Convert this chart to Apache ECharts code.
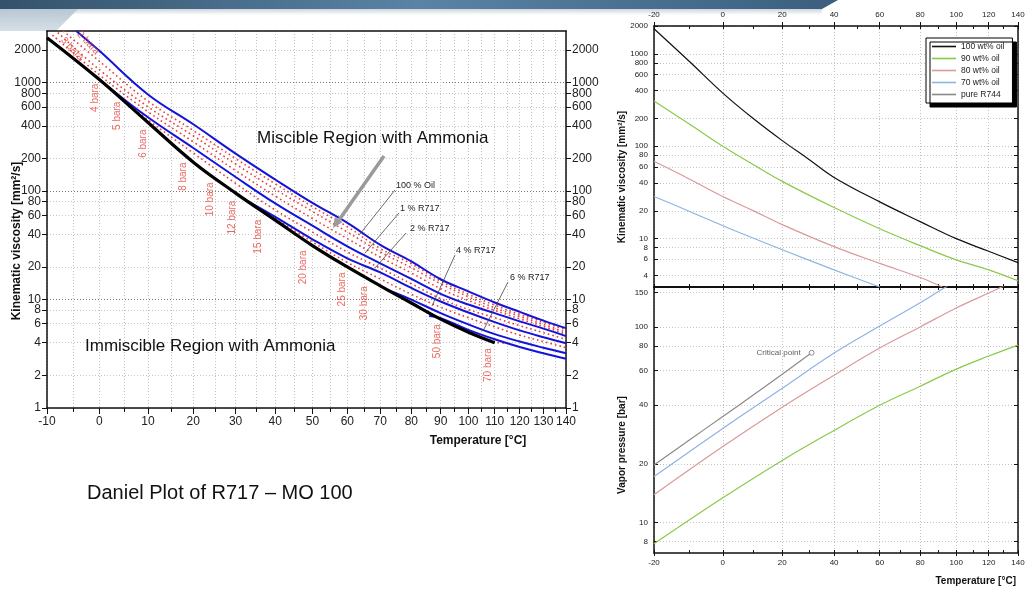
<!DOCTYPE html>
<html>
<head>
<meta charset="utf-8">
<title>Daniel Plot of R717 – MO 100</title>
<script src="https://cdn.jsdelivr.net/npm/echarts@6/dist/echarts.min.js"></script>
<style>
  html, body { margin: 0; padding: 0; background: #fff; }
  #chart { width: 1029px; height: 589px; }
</style>
</head>
<body>
<div id="chart"></div>
<script>
// ---------- left: Daniel plot, kinematic viscosity [mm²/s] over temperature [°C]
// pairs are [temperature °C, viscosity mm²/s]
const immiscibleBorder = [[-10, 2600], [0, 1070], [10, 430], [20, 185], [30, 96], [40, 54], [50, 31.5], [60, 20], [70, 13.4], [80, 9.3], [90, 6.6], [100, 5.0], [110, 4.0]];
const oil100 = [[-4.5, 3000], [0, 1970], [10, 780], [20, 414], [30, 222], [40, 128], [50, 78], [60, 51], [70, 32], [80, 22.5], [90, 15.4], [100, 11.9], [110, 9.4], [120, 7.7], [130, 6.4], [140, 5.45]];
const r717p1 = [[2, 900], [10, 480], [20, 250], [30, 135], [40, 77], [50, 48], [60, 31], [70, 21.6], [80, 15.5], [90, 11.3], [100, 9.0], [110, 7.5], [120, 6.3], [130, 5.4], [140, 4.6]];
const r717p2 = [[32, 85], [40, 58], [50, 36], [60, 24], [70, 17.8], [80, 12.8], [90, 9.6], [100, 7.6], [110, 6.2], [120, 5.2], [130, 4.5], [140, 3.96]];
const r717p4 = [[72, 12.4], [80, 10.0], [90, 7.5], [100, 5.9], [110, 4.8], [120, 4.1], [130, 3.6], [140, 3.2]];
const r717p6 = [[86, 7.06], [90, 6.75], [100, 5.25], [110, 4.3], [120, 3.65], [130, 3.2], [140, 2.85]];
// red dotted isobars
const isoA = [[-7, 3000], [0, 1580], [10, 676], [20, 363], [30, 200], [40, 117], [50, 72], [60, 47], [70, 29.5], [80, 21.4], [90, 14.8], [100, 11.2], [110, 8.9], [120, 7.3], [130, 6.2], [140, 5.25]];
const isoB = [[-8, 2900], [0, 1320], [10, 600], [20, 324], [30, 178], [40, 104], [50, 65], [60, 42], [70, 27.5], [80, 19.7], [90, 14], [100, 10.6], [110, 8.4], [120, 7.0], [130, 5.9], [140, 5.0]];
const isoC = [[-9, 2750], [0, 1180], [10, 540], [20, 285], [30, 155], [40, 90], [50, 56], [60, 36.5], [70, 24.6], [80, 17.6], [90, 12.6], [100, 9.8], [110, 7.95], [120, 6.65], [130, 5.65], [140, 4.8]];
const isoD = [[5, 690], [10, 455], [20, 225], [30, 118], [40, 67], [50, 42], [60, 27.5], [70, 19.5], [80, 14], [90, 10.2], [100, 8.1], [110, 6.8], [120, 5.75], [130, 4.95], [140, 4.3]];
const isoE = [[40, 56], [50, 34], [60, 22], [70, 15.5], [80, 11.2], [90, 8.5], [100, 6.8], [110, 5.6], [120, 4.7], [130, 4.1], [140, 3.6]];
const isoF = [[85, 7.8], [90, 6.7], [100, 5.1], [110, 4.05], [116, 3.95]];
const baraLabels = [['2 bara', -2.2, 2330], ['3 bara', -5.3, 2050], ['4 bara', -0.85, 727], ['5 bara', 3.6, 496], ['6 bara', 9.0, 274],
  ['8 bara', 17.7, 136], ['10 bara', 23.9, 84], ['12 bara', 29.1, 57], ['15 bara', 35.6, 38], ['20 bara', 47.4, 19.8],
  ['25 bara', 58.5, 12.4], ['30 bara', 65.0, 9.25], ['50 bara', 88.8, 4.13], ['70 bara', 107.5, 2.49]];

const leftTempTicks = [-10, 0, 10, 20, 30, 40, 50, 60, 70, 80, 90, 100, 110, 120, 130, 140];
const leftTempMinor = [-10, -5, 0, 5, 10, 15, 20, 25, 30, 35, 40, 45, 50, 55, 60, 65, 70, 75, 80, 85, 90, 95, 100, 105, 110, 115, 120, 125, 130, 135, 140];
const leftViscTicks = [1, 2, 4, 6, 8, 10, 20, 40, 60, 80, 100, 200, 400, 600, 800, 1000, 2000];
const leftDecades = [10, 100, 1000];

// ---------- right: CO2 / oil mixtures
const rightTempTicks = [-20, 0, 20, 40, 60, 80, 100, 120, 140];
const rightTempMinor = [-20, -10, 0, 10, 20, 30, 40, 50, 60, 70, 80, 90, 100, 110, 120, 130, 140];
const rightViscTicks = [4, 6, 8, 10, 20, 40, 60, 80, 100, 200, 400, 600, 800, 1000, 2000];
const pressTicks = [8, 10, 20, 40, 60, 80, 100, 150];

const visc100 = [[-20, 1870], [-10, 820], [0, 376], [10, 198], [20, 115], [30, 72], [40, 46], [60, 25], [80, 15.3], [100, 10], [120, 7.3], [140, 5.5]];
const visc90 = [[-20, 308], [-10, 173], [0, 100], [10, 63], [20, 41.7], [40, 21.7], [60, 12.8], [80, 8.4], [100, 5.9], [120, 4.6], [140, 3.5]];
const visc80 = [[-20, 68.7], [-10, 44], [0, 28.6], [10, 20], [20, 14.2], [40, 8.2], [60, 5.4], [80, 3.8], [92, 3.0]];
const visc70 = [[-20, 28.6], [-10, 19.7], [0, 13.8], [10, 10.1], [20, 7.6], [40, 4.6], [60, 3.0]];

const press90 = [[-20, 7.8], [0, 13.4], [20, 20.8], [40, 29.6], [60, 39.8], [80, 49.8], [100, 60.9], [120, 71], [140, 80.8]];
const press80 = [[-20, 13.9], [0, 24.5], [20, 38.9], [40, 56.7], [60, 78], [80, 100], [100, 125], [120, 149], [130, 162]];
const press70 = [[-20, 17.2], [0, 30.3], [20, 48.6], [40, 73.6], [60, 101], [80, 133], [90, 152], [95, 162]];
const pressR744 = [[-20, 19.7], [-10, 26.5], [0, 34.9], [10, 45.0], [20, 57.3], [31, 73.8]];
const criticalPoint = [31, 73.8];

// temperature axes are 1/T (Kelvin), viscosity / pressure axes are log10
const tx = t => -1000 / (t + 273.15);
const txInv = x => String(Math.round(-1000 / x - 273.15));
const ly = v => Math.log10(v);
const lyInv = y => String(Math.round(Math.pow(10, y)));
const pts = arr => arr.map(([t, v]) => [tx(t), ly(v)]);

const FONT = "'Liberation Sans', Arial, sans-serif";
const chart = echarts.init(document.getElementById('chart'));

function tempAxis(grid, pos, range, o) {
  return {
    type: 'value', gridIndex: grid, position: pos, min: tx(range[0]), max: tx(range[1]),
    axisLine: { show: o.line !== false, onZero: false, lineStyle: { color: '#111', width: o.lineWidth || 1.5 } },
    axisTick: { show: !!o.ticks, inside: !!o.inside, length: o.tickLen || 4, customValues: (o.ticks || []).map(tx), lineStyle: { color: '#111', width: 1 } },
    axisLabel: o.labels ? { show: true, customValues: o.labels.map(tx), formatter: txInv, fontSize: o.fontSize, color: '#222', margin: o.margin, fontFamily: FONT, hideOverlap: false } : { show: false },
    splitLine: { show: !!o.split, lineStyle: { color: '#c2c2c2', width: 1, type: [1, 2] } }
  };
}

function logAxis(grid, pos, range, o) {
  return {
    type: 'value', gridIndex: grid, position: pos, min: ly(range[0]), max: ly(range[1]),
    axisLine: { show: o.line !== false, onZero: false, lineStyle: { color: '#111', width: 1.5 } },
    axisTick: { show: o.tickShow !== false, inside: !!o.inside, length: o.tickLen || 4, customValues: o.ticks.map(ly), lineStyle: { color: '#111', width: 1 } },
    axisLabel: o.labels ? { show: true, customValues: o.ticks.map(ly), formatter: lyInv, fontSize: o.fontSize, color: '#222', margin: o.margin, fontFamily: FONT, hideOverlap: false } : { show: false },
    splitLine: { show: !!o.split, lineStyle: { color: o.splitColor || '#c6c6c6', width: 1, type: [1, 2] } }
  };
}

function line(name, data, color, width, xi, yi, extra) {
  return Object.assign({
    name: name, type: 'line', xAxisIndex: xi, yAxisIndex: yi, data: pts(data),
    symbol: 'none', showSymbol: false, smooth: 0.4, clip: true,
    lineStyle: { color: color, width: width }, itemStyle: { color: color }
  }, extra || {});
}

const BLUE = '#1414d8';
const RED = '#e5413a';
const isoStyle = { z: 2, lineStyle: { color: RED, width: 1.6, type: [1.6, 3] } };

const series = [
  line('isoA', isoA, RED, 1.6, 0, 0, isoStyle),
  line('isoB', isoB, RED, 1.6, 0, 0, isoStyle),
  line('isoC', isoC, RED, 1.6, 0, 0, isoStyle),
  line('isoD', isoD, RED, 1.6, 0, 0, isoStyle),
  line('isoE', isoE, RED, 1.6, 0, 0, isoStyle),
  line('isoF', isoF, RED, 1.6, 0, 0, isoStyle),
  line('100 % Oil', oil100, BLUE, 2, 0, 0, { z: 3 }),
  line('1 % R717', r717p1, BLUE, 2, 0, 0, { z: 3 }),
  line('2 % R717', r717p2, BLUE, 2, 0, 0, { z: 3 }),
  line('4 % R717', r717p4, BLUE, 2, 0, 0, { z: 3 }),
  line('6 % R717', r717p6, BLUE, 2, 0, 0, { z: 3 }),
  line('miscibility limit', immiscibleBorder, '#000', 3.2, 0, 0, { z: 4 }),
  {
    name: 'bara', type: 'scatter', xAxisIndex: 0, yAxisIndex: 0, symbolSize: 0, z: 5, silent: true,
    data: baraLabels.map(([txt, t, v], i) => ({
      name: txt, value: [tx(t), ly(v)],
      label: { rotate: i < 2 ? -47 : 90 }
    })),
    label: { show: true, position: 'inside', formatter: p => p.name, color: RED, fontSize: 10, fontFamily: FONT }
  },

  line('100 wt% oil', visc100, '#111', 1.2, 3, 3),
  line('90 wt% oil', visc90, '#8cc84b', 1.2, 3, 3),
  line('80 wt% oil', visc80, '#d99a9a', 1.2, 3, 3),
  line('70 wt% oil', visc70, '#8fb3e3', 1.2, 3, 3),

  line('90 wt% oil', press90, '#8cc84b', 1.2, 7, 5),
  line('80 wt% oil', press80, '#d99a9a', 1.2, 7, 5),
  line('70 wt% oil', press70, '#8fb3e3', 1.2, 7, 5),
  line('pure R744', pressR744, '#8a8a8a', 1.2, 7, 5),
  {
    name: 'Critical point', type: 'scatter', xAxisIndex: 7, yAxisIndex: 5, z: 6,
    data: [[tx(criticalPoint[0]), ly(criticalPoint[1])]],
    symbol: 'circle', symbolSize: 5,
    itemStyle: { color: '#fff', borderColor: '#777', borderWidth: 1 },
    label: { show: true, position: 'left', distance: 8, formatter: 'Critical point', fontSize: 8, color: '#333', fontFamily: FONT }
  }
];

function txt(text, x, y, size, opt) {
  return Object.assign({
    type: 'text', x: x, y: y, z: 100,
    style: Object.assign({ text: text, fill: '#111', font: size + 'px ' + FONT, textVerticalAlign: 'middle' }, (opt && opt.style) || {})
  }, (opt && opt.el) || {});
}
function seg(x1, y1, x2, y2, color, w) {
  return { type: 'line', z: 100, shape: { x1: x1, y1: y1, x2: x2, y2: y2 }, style: { stroke: color, lineWidth: w } };
}

const graphic = [
  // slide banner
  { type: 'polygon', z: -10, shape: { points: [[0, 0], [838, 0], [822, 9], [0, 9]] },
    style: { fill: new echarts.graphic.LinearGradient(0, 0, 1, 0, [{ offset: 0, color: '#34526c' }, { offset: 0.5, color: '#5a83a5' }, { offset: 1, color: '#3b5e7e' }]) } },
  { type: 'rect', z: -11, shape: { x: 0, y: 9, width: 822, height: 6 },
    style: { fill: new echarts.graphic.LinearGradient(0, 0, 0, 1, [{ offset: 0, color: '#cdd5dc' }, { offset: 1, color: '#ffffff' }]) } },
  { type: 'polygon', z: -10, shape: { points: [[0, 9], [78, 9], [56, 31], [0, 31]] },
    style: { fill: new echarts.graphic.LinearGradient(0, 0, 0, 1, [{ offset: 0, color: '#b8c7d3' }, { offset: 1, color: '#d6dfe6' }]) } },

  // left chart annotations
  txt('Miscible Region with Ammonia', 257, 138, 17),
  txt('Immiscible Region with Ammonia', 85, 346, 17),
  txt('Daniel Plot of R717 \u2013 MO 100', 87, 493, 20),
  seg(384, 156, 339, 220, '#9a9a9a', 3.5),
  { type: 'polygon', z: 100, shape: { points: [[333, 228], [342.5, 222.3], [335, 217]] }, style: { fill: '#9a9a9a' } },
  txt('100 % Oil', 396, 186, 9, { style: { fill: '#222' } }),
  txt('1 % R717', 400, 209, 9, { style: { fill: '#222' } }),
  txt('2 % R717', 410, 229, 9, { style: { fill: '#222' } }),
  txt('4 % R717', 456, 251, 9, { style: { fill: '#222' } }),
  txt('6 % R717', 510, 278, 9, { style: { fill: '#222' } }),
  seg(395, 190, 360, 234, '#444', 0.8),
  seg(399, 213, 365, 253, '#444', 0.8),
  seg(406, 233, 375, 268, '#444', 0.8),
  seg(455, 255, 432, 306, '#444', 0.8),
  seg(508, 282, 483, 331, '#444', 0.8),
  txt('Kinematic viscosity [mm\u00b2/s]', 17, 241, 12, { style: { textAlign: 'center', font: 'bold 12px ' + FONT }, el: { rotation: Math.PI / 2 } }),
  txt('Temperature [\u00b0C]', 478, 441, 12, { style: { textAlign: 'center', font: 'bold 12px ' + FONT } }),

  // right chart titles
  txt('Kinematic viscosity [mm\u00b2/s]', 622, 177, 10, { style: { textAlign: 'center', font: 'bold 10px ' + FONT }, el: { rotation: Math.PI / 2 } }),
  txt('Vapor pressure [bar]', 622, 445, 10, { style: { textAlign: 'center', font: 'bold 10px ' + FONT }, el: { rotation: Math.PI / 2 } }),
  txt('Temperature [\u00b0C]', 1016, 581, 10, { style: { textAlign: 'right', font: 'bold 10px ' + FONT } })
];

const option = {
  animation: false,
  backgroundColor: '#fff',
  textStyle: { fontFamily: FONT },
  grid: [
    { left: 47, top: 31, width: 519, height: 377, outerBoundsMode: 'none' },
    { left: 654, top: 26, width: 364, height: 261, outerBoundsMode: 'none' },
    { left: 654, top: 287, width: 364, height: 266, outerBoundsMode: 'none' }
  ],
  xAxis: [
    tempAxis(0, 'bottom', [-10, 140], { ticks: leftTempTicks, labels: leftTempTicks, tickLen: 6, fontSize: 12, margin: 8 }),
    tempAxis(0, 'bottom', [-10, 140], { line: false, ticks: leftTempMinor, tickLen: 4, split: true }),
    tempAxis(0, 'top', [-10, 140], { lineWidth: 1.5 }),
    tempAxis(1, 'top', [-20, 140], { ticks: rightTempTicks, labels: rightTempTicks, tickLen: 4, fontSize: 8, margin: 7, split: true }),
    tempAxis(1, 'top', [-20, 140], { line: false, ticks: rightTempMinor, inside: true, tickLen: 3 }),
    tempAxis(1, 'bottom', [-20, 140], { ticks: rightTempMinor, tickLen: 3, lineWidth: 2 }),
    tempAxis(1, 'bottom', [-20, 140], { line: false, ticks: rightTempMinor, inside: true, tickLen: 3 }),
    tempAxis(2, 'bottom', [-20, 140], { ticks: rightTempTicks, labels: rightTempTicks, tickLen: 3, fontSize: 8, margin: 6, split: true }),
    tempAxis(2, 'bottom', [-20, 140], { line: false, ticks: rightTempMinor, inside: true, tickLen: 3 })
  ],
  yAxis: [
    logAxis(0, 'left', [1, 3000], { ticks: leftViscTicks, labels: true, tickLen: 5, fontSize: 12, margin: 6, split: true }),
    logAxis(0, 'right', [1, 3000], { ticks: leftViscTicks, labels: true, tickLen: 5, fontSize: 12, margin: 6 }),
    logAxis(0, 'left', [1, 3000], { line: false, tickShow: false, ticks: leftDecades, split: true, splitColor: '#7a7a7a' }),
    logAxis(1, 'left', [3, 2000], { ticks: rightViscTicks, labels: true, inside: true, tickLen: 4, fontSize: 8, margin: 6, split: true }),
    logAxis(1, 'right', [3, 2000], { ticks: rightViscTicks, inside: true, tickLen: 4 }),
    logAxis(2, 'left', [7, 160], { ticks: pressTicks, labels: true, inside: true, tickLen: 4, fontSize: 8, margin: 6, split: true }),
    logAxis(2, 'right', [7, 160], { ticks: pressTicks, inside: true, tickLen: 4 })
  ],
  legend: {
    orient: 'vertical', left: 926, top: 38,
    data: ['100 wt% oil', '90 wt% oil', '80 wt% oil', '70 wt% oil', 'pure R744'].map(n => ({ name: n, icon: 'rect' })),
    itemWidth: 24, itemHeight: 1.6, itemGap: 3,
    textStyle: { fontSize: 8.5, color: '#222', fontFamily: FONT, lineHeight: 9 },
    backgroundColor: '#fff', borderColor: '#000', borderWidth: 1, borderRadius: 0,
    padding: [4, 8, 4, 6],
    shadowColor: '#000', shadowOffsetX: 4, shadowOffsetY: 4, shadowBlur: 0,
    selectedMode: false
  },
  graphic: graphic,
  series: series
};

chart.setOption(option);
</script>
</body>
</html>
